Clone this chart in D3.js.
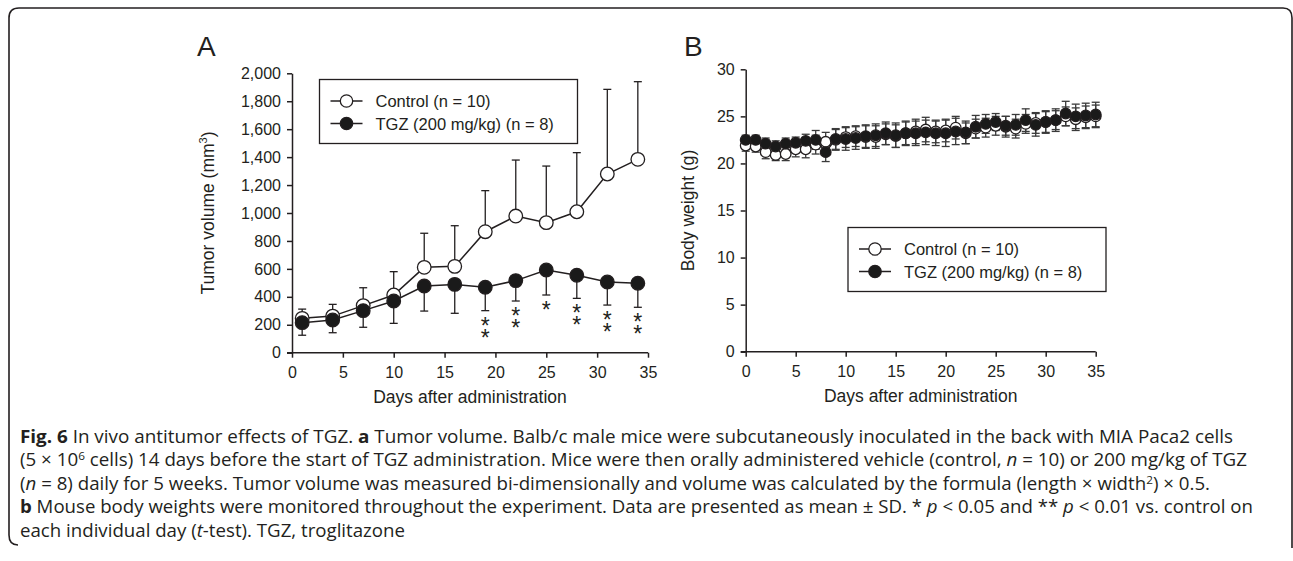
<!DOCTYPE html>
<html>
<head>
<meta charset="utf-8">
<script src="https://cdn.jsdelivr.net/npm/d3@7"></script>
<style>
  body { margin: 0; background: #fff; }
  text { fill: #231f20; }
</style>
</head>
<body>
<div class="fig"></div>
<script>
// panel A: tumor volume
const daysA = [1, 4, 7, 10, 13, 16, 19, 22, 25, 28, 31, 34];
const controlA = [246, 262, 337, 413, 611, 618, 866, 978, 931, 1009, 1279, 1384];
const controlA_sd = [66, 84, 128, 167, 244, 291, 294, 401, 405, 423, 606, 556];
const tgzA = [215, 234, 301, 370, 477, 489, 468, 516, 592, 554, 506, 497];
const tgzA_sd = [90, 91, 119, 160, 179, 207, 167, 146, 179, 165, 165, 172];
const starsA = ["", "", "", "", "", "", "**", "**", "*", "**", "**", "**"];
const ticksA_y = [0, 200, 400, 600, 800, 1000, 1200, 1400, 1600, 1800, 2000];

// panel B: body weight
const daysB = [0,1,2,3,4,5,6,7,8,9,10,11,12,13,14,15,16,17,18,19,20,21,22,23,24,25,26,27,28,29,30,31,32,33,34,35];
const controlB = [21.9,21.8,21.2,20.9,21.0,21.5,21.5,22.0,22.3,22.5,22.8,22.9,22.8,22.8,23.1,22.9,23.2,23.4,23.6,23.4,23.5,23.8,23.2,23.7,23.8,24.0,23.9,23.7,24.2,24.3,24.4,24.6,25.0,24.7,24.9,25.0];
const controlB_sd = [0.6,0.6,0.7,0.6,0.7,0.8,0.9,1.0,1.0,1.1,1.1,1.1,1.2,1.2,1.1,1.2,1.3,1.3,1.3,1.2,1.2,1.2,1.1,1.0,1.0,1.0,1.1,1.0,1.0,1.1,1.1,1.0,1.0,1.2,1.2,1.2];
const tgzB = [22.5,22.5,22.1,21.8,22.1,22.2,22.4,22.5,21.2,22.6,22.6,22.7,22.9,23.0,23.2,23.0,23.2,23.2,23.3,23.2,23.2,23.4,23.3,23.9,24.2,24.4,24.0,24.1,24.6,24.1,24.4,24.6,25.3,25.0,25.1,25.2];
const tgzB_sd = [0.5,0.5,0.6,0.6,0.6,0.6,0.7,1.0,1.0,1.1,1.2,1.2,1.2,1.2,1.2,1.3,1.2,1.3,1.3,1.3,1.4,1.4,1.2,1.2,1.0,0.9,1.0,1.1,1.2,1.2,1.2,1.2,1.3,1.3,1.3,1.3];
const ticksB_y = [0, 5, 10, 15, 20, 25, 30];

const ticksX = [0, 5, 10, 15, 20, 25, 30, 35];
const legendLabels = ["Control (n = 10)", "TGZ (200 mg/kg) (n = 8)"];

const W = 1293, H = 561;
const svg = d3.select(".fig").append("svg")
    .attr("width", W)
    .attr("height", H)
    .style("font-family", "'Liberation Sans', Arial, sans-serif");

// outer frame
svg.append("path")
    .attr("d", "M18,545 Q9,545 9,535 L9,18 Q9,8 19,8 L1283,8 Q1292,8 1292,18 L1292,548")
    .attr("fill", "none")
    .attr("stroke", "#231f20")
    .attr("stroke-width", 1.6);

function drawPanel(opt) {
    const x = d3.scaleLinear().domain([0, 35]).range(opt.xr);
    const y = d3.scaleLinear().domain(opt.ydom).range(opt.yr);
    const g = svg.append("g");

    // axes
    const xAxis = g.append("g")
        .attr("transform", "translate(0," + opt.yr[0] + ")")
        .call(d3.axisBottom(x).tickValues(ticksX).tickSize(5).tickSizeOuter(0).tickPadding(6));
    const yAxis = g.append("g")
        .attr("transform", "translate(" + opt.xr[0] + ",0)")
        .call(d3.axisLeft(y).tickValues(opt.yticks).tickSize(5).tickSizeOuter(0).tickPadding(6).tickFormat(opt.fmt));
    [xAxis, yAxis].forEach(a => {
        a.select(".domain").attr("stroke", "#231f20").attr("stroke-width", 1.5);
        a.selectAll(".tick line").attr("stroke", "#231f20").attr("stroke-width", 1.5);
        a.selectAll(".tick text").style("font-size", "16px").attr("fill", "#231f20")
            .style("font-family", "'Liberation Sans', Arial, sans-serif");
    });
    xAxis.selectAll(".tick text").attr("dy", "0.9em");
    xAxis.select(".domain").attr("d", "M" + (opt.xr[0] - 5) + ",0H" + opt.xr[1]);

    g.append("text")
        .attr("x", (opt.xr[0] + opt.xr[1]) / 2)
        .attr("y", opt.yr[0] + 50)
        .attr("text-anchor", "middle")
        .style("font-size", "17.5px")
        .text("Days after administration");

    const yl = g.append("text")
        .attr("transform", "translate(" + opt.ylabX + "," + ((opt.yr[0] + opt.yr[1]) / 2) + ") rotate(-90)")
        .attr("text-anchor", "middle")
        .style("font-size", "17.5px");
    yl.append("tspan").text(opt.ylab);
    if (opt.sup) {
        yl.append("tspan").attr("dy", -7).style("font-size", "11px").text(opt.sup);
        yl.append("tspan").attr("dy", 7).text(")");
    }

    g.append("text")
        .attr("x", opt.letterX)
        .attr("y", 56)
        .style("font-size", "28px")
        .text(opt.letter);

    // series
    const line = d3.line().x(d => x(d.day)).y(d => y(d.v));
    opt.series.forEach(s => {
        const pts = s.days.map((d, i) => ({ day: d, v: s.vals[i], sd: s.sd[i] }));
        const eb = g.append("g").attr("stroke", s.ebColor).attr("stroke-width", 1.3);
        pts.forEach(p => {
            const y0 = s.dir === "both" ? y(p.v - p.sd) : y(p.v);
            const y1 = s.dir === "down" ? y(p.v - p.sd) : y(p.v + p.sd);
            eb.append("line").attr("x1", x(p.day)).attr("x2", x(p.day)).attr("y1", y0).attr("y2", y1);
            const caps = s.dir === "both" ? [y0, y1] : [y1];
            caps.forEach(c => eb.append("line")
                .attr("x1", x(p.day) - 4).attr("x2", x(p.day) + 4).attr("y1", c).attr("y2", c));
        });
        s.pts = pts;
    });
    opt.series.forEach(s => {
        g.append("path").datum(s.pts)
            .attr("d", line)
            .attr("fill", "none")
            .attr("stroke", "#231f20")
            .attr("stroke-width", 1.5);
        g.selectAll(null).data(s.pts).enter().append("circle")
            .attr("cx", d => x(d.day))
            .attr("cy", d => y(d.v))
            .attr("r", opt.r)
            .attr("fill", s.fill)
            .attr("stroke", "#231f20")
            .attr("stroke-width", 1.3);
    });

    // legend
    const lg = g.append("g").attr("transform", "translate(" + opt.legend[0] + "," + opt.legend[1] + ")");
    lg.append("rect").attr("width", 258).attr("height", 64)
        .attr("fill", "#fff").attr("stroke", "#231f20").attr("stroke-width", 1.3);
    legendLabels.forEach((lab, i) => {
        const ly = 21.5 + i * 22.5;
        lg.append("line").attr("x1", 11).attr("x2", 43).attr("y1", ly).attr("y2", ly)
            .attr("stroke", "#231f20").attr("stroke-width", 1.5);
        lg.append("circle").attr("cx", 27).attr("cy", ly).attr("r", 6.2)
            .attr("fill", i === 0 ? "#fff" : "#1a1a1a").attr("stroke", "#231f20").attr("stroke-width", 1.3);
        lg.append("text").attr("x", 56).attr("y", ly + 6).style("font-size", "16.5px").text(lab);
    });

    return { x, y, g };
}

const A = drawPanel({
    xr: [292, 648], ydom: [0, 2000], yr: [352.7, 73.3], yticks: ticksA_y, fmt: d3.format(","),
    ylab: "Tumor volume (mm", sup: "3", ylabX: 214, letter: "A", letterX: 197, r: 6.8,
    legend: [319.5, 79.5],
    series: [
        { days: daysA, vals: controlA, sd: controlA_sd, fill: "#fff", dir: "up", ebColor: "#231f20" },
        { days: daysA, vals: tgzA, sd: tgzA_sd, fill: "#1a1a1a", dir: "down", ebColor: "#231f20" }
    ]
});

// significance marks under TGZ error bars, stacked via per-glyph positions
daysA.forEach((d, i) => {
    const marks = starsA[i];
    if (!marks) return;
    const cx = A.x(d);
    const base = A.y(tgzA[i] - tgzA_sd[i]) + 23;
    A.g.append("text")
        .attr("x", marks.split("").map(() => cx).join(" "))
        .attr("y", marks.split("").map((m, k) => base + k * 12).join(" "))
        .attr("text-anchor", "middle")
        .style("font-size", "23px")
        .text(marks);
});

drawPanel({
    xr: [745.7, 1095.7], ydom: [0, 30], yr: [351.7, 69.3], yticks: ticksB_y, fmt: d3.format("d"),
    ylab: "Body weight (g)", ylabX: 694, letter: "B", letterX: 684, r: 5.3,
    legend: [848, 227.5],
    series: [
        { days: daysB, vals: controlB, sd: controlB_sd, fill: "#fff", dir: "both", ebColor: "#3a3a3a" },
        { days: daysB, vals: tgzB, sd: tgzB_sd, fill: "#1a1a1a", dir: "both", ebColor: "#3a3a3a" }
    ]
});

// caption
const capFont = "'Open Sans', 'Noto Sans', sans-serif";
const caption = [
    { w: 1213, parts: [["Fig. 6", "b"], [" In vivo antitumor effects of TGZ. "], ["a", "b"], [" Tumor volume. Balb/c male mice were subcutaneously inoculated in the back with MIA Paca2 cells"]] },
    { w: 1227, parts: [["(5 × 10"], ["6", "sup"], [" cells) 14 days before the start of TGZ administration. Mice were then orally administered vehicle (control, "], ["n", "i"], [" = 10) or 200 mg/kg of TGZ"]] },
    { w: 1190, parts: [["("], ["n", "i"], [" = 8) daily for 5 weeks. Tumor volume was measured bi-dimensionally and volume was calculated by the formula (length × width"], ["2", "sup"], [") × 0.5."]] },
    { w: 1233, parts: [["b", "b"], [" Mouse body weights were monitored throughout the experiment. Data are presented as mean ± SD. * "], ["p", "i"], [" < 0.05 and ** "], ["p", "i"], [" < 0.01 vs. control on"]] },
    { w: 385, parts: [["each individual day ("], ["t", "i"], ["-test). TGZ, troglitazone"]] }
];
caption.forEach((ln, i) => {
    const t = svg.append("text")
        .attr("x", 20)
        .attr("y", 443 + i * 23.4)
        .attr("textLength", ln.w)
        .attr("lengthAdjust", "spacingAndGlyphs")
        .style("font-family", capFont)
        .style("font-size", "17.5px");
    let back = 0;
    ln.parts.forEach(p => {
        const ts = t.append("tspan").text(p[0]);
        if (back) { ts.attr("dy", back); back = 0; }
        if (p[1] === "b") ts.style("font-weight", "bold");
        if (p[1] === "i") ts.style("font-style", "italic");
        if (p[1] === "sup") {
            ts.attr("dy", -6).style("font-size", "11px");
            back = 6;
        }
    });
});
</script>
</body>
</html>
